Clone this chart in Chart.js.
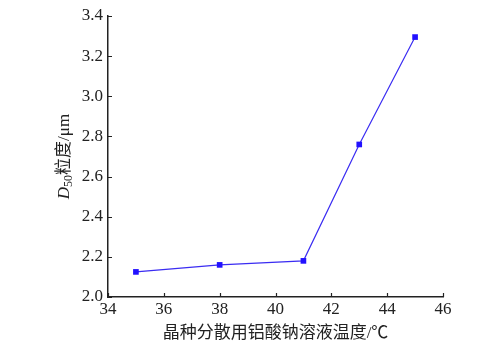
<!DOCTYPE html>
<html><head><meta charset="utf-8">
<script src="https://cdn.jsdelivr.net/npm/chart.js@4/dist/chart.umd.min.js"></script>
<style>html,body{margin:0;padding:0;background:#fff}#wrap{width:495px;height:350px}</style>
</head><body><div id="wrap"><canvas id="c" width="495" height="350"></canvas></div>
<script>
const temperatures = [35, 38, 41, 43, 45];
const d50 = [2.125, 2.16, 2.18, 2.76, 3.295];
const xTicks = [34, 36, 38, 40, 42, 44, 46];
const yTicks = [2.0, 2.2, 2.4, 2.6, 2.8, 3.0, 3.2, 3.4];
const xTitle = '晶种分散用铝酸钠溶液温度/℃';
const yTitleParts = ['D', '50', '粒度/μm'];

const serif = '"Liberation Serif", "DejaVu Serif", serif';
const cjk = '"Liberation Serif", "Noto Sans CJK SC", serif';

const innerTicks = {
  id: 'innerTicks',
  afterDraw(chart) {
    const ctx = chart.ctx, a = chart.chartArea;
    const xs = chart.scales.x, ys = chart.scales.y;
    ctx.save();
    ctx.strokeStyle = '#222';
    ctx.lineWidth = 1.2;
    ctx.beginPath();
    xTicks.forEach(v => { const p = Math.round(xs.getPixelForValue(v)) + 0.5; ctx.moveTo(p, a.bottom); ctx.lineTo(p, a.bottom - 4); });
    yTicks.forEach(v => { const p = Math.round(ys.getPixelForValue(v)) + 0.5; ctx.moveTo(a.left, p); ctx.lineTo(a.left + 4, p); });
    ctx.stroke();
    // y title
    ctx.translate(63, (a.top + a.bottom) / 2);
    ctx.rotate(-Math.PI / 2);
    ctx.fillStyle = '#222';
    ctx.textBaseline = 'alphabetic';
    const f1 = 'italic 17px ' + serif, f2 = '12px ' + serif, f3 = '17px ' + cjk;
    ctx.font = f1; const w1 = ctx.measureText(yTitleParts[0]).width;
    ctx.font = f2; const w2 = ctx.measureText(yTitleParts[1]).width;
    ctx.font = f3; const w3 = ctx.measureText(yTitleParts[2]).width;
    let x = -(w1 + w2 + w3) / 2; const base = 6;
    ctx.font = f1; ctx.fillText(yTitleParts[0], x, base); x += w1;
    ctx.font = f2; ctx.fillText(yTitleParts[1], x, base + 3); x += w2;
    ctx.font = f3; ctx.fillText(yTitleParts[2], x, base);
    ctx.restore();
  }
};

new Chart(document.getElementById('c'), {
  type: 'line',
  data: {
    datasets: [{
      data: temperatures.map((t, i) => ({ x: t, y: d50[i] })),
      borderColor: '#3a2cf2',
      borderWidth: 1.2,
      backgroundColor: '#2211ff',
      pointBackgroundColor: '#2211ff',
      pointBorderColor: '#2211ff',
      pointStyle: 'rect',
      pointRadius: 4,
      pointBorderWidth: 0,
      tension: 0
    }]
  },
  options: {
    responsive: false,
    animation: false,
    devicePixelRatio: 1,
    layout: { padding: { left: 0, right: 52, top: 16, bottom: 0 } },
    plugins: { legend: { display: false }, tooltip: { enabled: false } },
    scales: {
      x: {
        type: 'linear', min: 34, max: 46,
        afterBuildTicks: s => { s.ticks = xTicks.map(v => ({ value: v })); },
        afterFit: s => { s.height = 53; },
        grid: { display: false, drawTicks: false },
        border: { display: true, color: '#222', width: 1.5 },
        ticks: { color: '#222', font: { family: serif, size: 17 }, padding: 2, maxRotation: 0, callback: v => String(v) },
        title: { display: true, text: xTitle, color: '#222', font: { family: cjk, size: 17 }, padding: { top: 2, bottom: 6 } }
      },
      y: {
        type: 'linear', min: 2.0, max: 3.4,
        afterBuildTicks: s => { s.ticks = yTicks.map(v => ({ value: v })); },
        afterFit: s => { s.width = 108; },
        grid: { display: false, drawTicks: false },
        border: { display: true, color: '#222', width: 1.5 },
        ticks: { color: '#222', font: { family: serif, size: 17 }, padding: 5, callback: v => Number(v).toFixed(1) }
      }
    }
  },
  plugins: [innerTicks]
});
</script></body></html>
